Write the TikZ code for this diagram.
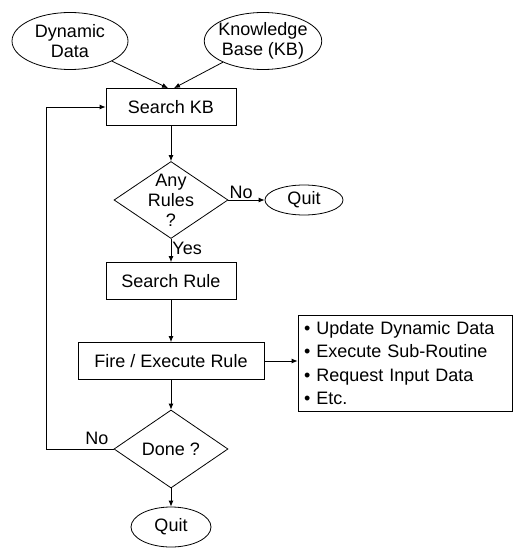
\documentclass[tikz,border=0pt]{standalone}
\usepackage{fontspec}
\setmainfont{Liberation Sans}
\usetikzlibrary{arrows.meta, shapes.geometric}

\begin{document}
\begin{tikzpicture}[x=1pt, y=-1pt, every node/.style={font=\fontsize{18}{20}\selectfont},
    box/.style={draw, line width=0.8pt, minimum height=37},
    decision/.style={draw, diamond, line width=0.8pt, inner sep=0pt, minimum width=114, minimum height=77},
    terminal/.style={draw, ellipse, line width=0.8pt, inner ysep=0pt, inner xsep=-3pt, align=center},
    arr/.style={line width=0.8pt, -{Latex[length=6pt, width=5pt]}}]
    \useasboundingbox (0,0) rectangle (515,548);

    % Inputs
    \node[terminal, minimum width=116, minimum height=57] (dyn) at (70,41) {Dynamic\\Data};
    \node[terminal, minimum width=116, minimum height=57] (kb) at (263,41) {Knowledge\\Base (KB)};

    % Main flow
    \node[box, minimum width=130] (searchkb) at (171,107) {Search KB};
    \node[decision, label={[align=center]center:Any\\Rules\\?}] (any) at (171,200) {};
    \node[terminal, minimum width=78, minimum height=30] (quita) at (304,200) {Quit};
    \node[box, minimum width=130] (searchrule) at (171,281) {Search Rule};
    \node[box, minimum width=186] (fire) at (171,361) {Fire / Execute Rule};
    \node[box, text width=202, align=left, minimum height=96, inner sep=6pt,
          font=\fontsize{18}{23.5}\selectfont] (actions) at (405,363)
        {\textbullet\ Update Dynamic Data\\ \textbullet\ Execute Sub-Routine\\
         \textbullet\ Request Input Data\\ \textbullet\ Etc.};
    \node[decision, minimum height=78, label=center:Done ?] (done) at (171,449) {};
    \node[terminal, minimum width=80, minimum height=40] (quitb) at (171,527) {Quit};

    % Connectors
    \draw[arr] (dyn) -- ([xshift=-3]searchkb.north);
    \draw[arr] (kb) -- ([xshift=3]searchkb.north);
    \draw[arr] (searchkb) -- (any);
    \draw[arr] (any.east) -- node[above, pos=0.35, inner sep=1pt] {No} (quita);
    \draw[arr] (any) -- node[right, pos=0.4, inner sep=1pt] {Yes} (searchrule);
    \draw[arr] (searchrule) -- (fire);
    \draw[arr] (fire) -- (fire -| actions.west);
    \draw[arr] (fire) -- (done);
    \draw[arr] (done) -- (quitb);

    % Loop back
    \draw[arr] (done.west) -- node[above, pos=0.25, inner sep=4pt] {No} ++(-67,0) |- (searchkb);
\end{tikzpicture}
\end{document}
